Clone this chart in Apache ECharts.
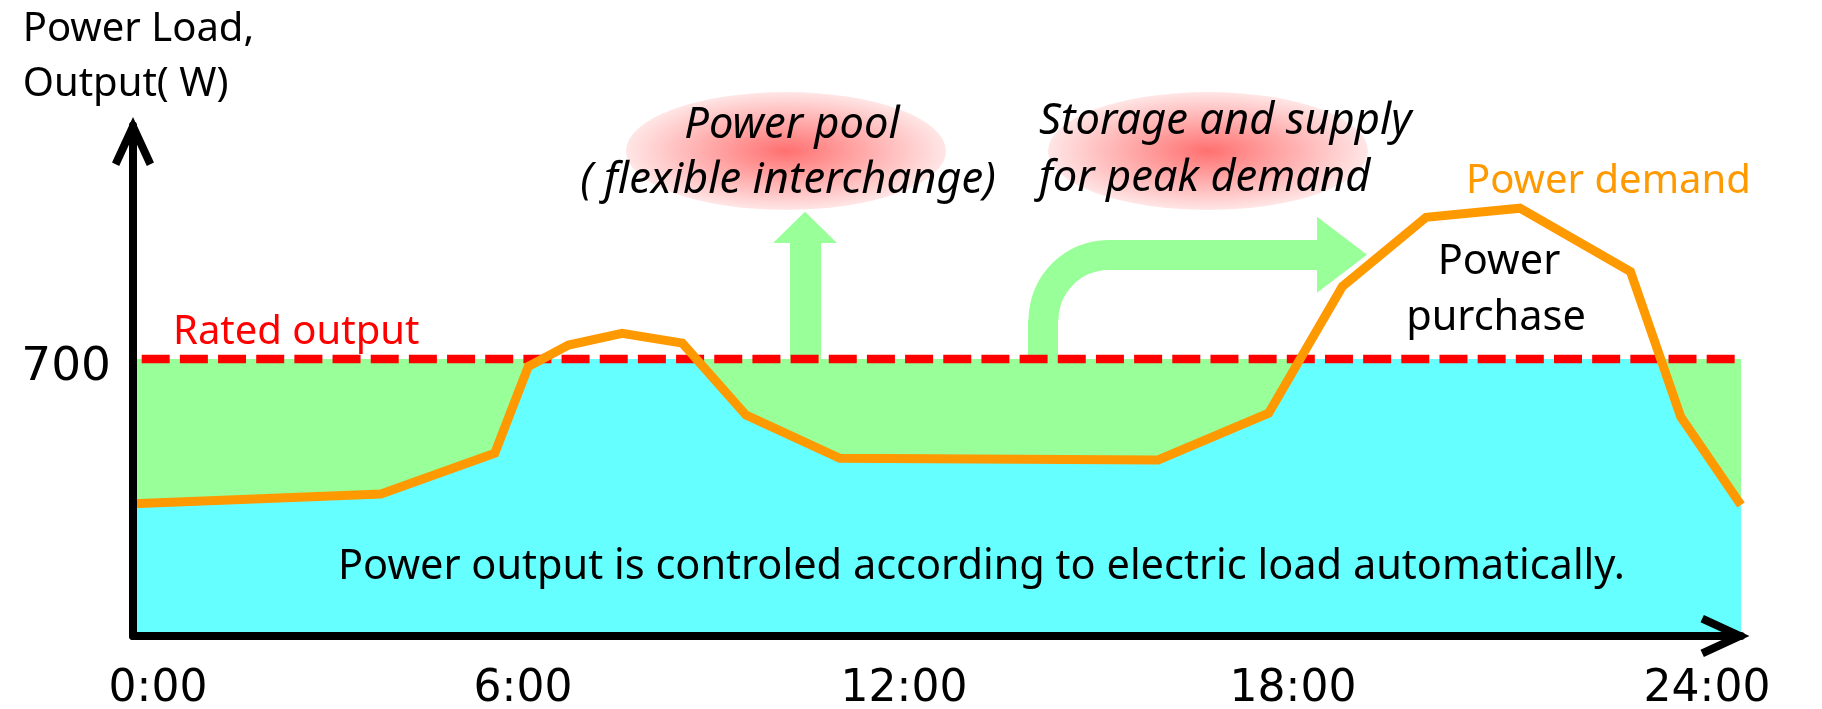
<!DOCTYPE html>
<html>
<head>
<meta charset="utf-8">
<script src="https://cdn.jsdelivr.net/npm/echarts@6/dist/echarts.min.js"></script>
<style>
html,body{margin:0;padding:0;background:#fff;}
#main{width:1822px;height:709px;}
</style>
</head>
<body>
<div id="main"></div>
<script>
// ---- data ----
const demandHours = [0, 3.7, 5.4, 5.9, 6.5, 7.3, 8.2, 9.15, 10.55, 15.3, 16.95, 18.05, 19.3, 20.7, 22.35, 23.1, 24];
const demand      = [334, 359, 462, 681, 735, 765, 740, 558, 449, 445, 563, 883, 1058, 1081, 921, 554, 331];
const outputHours = [0, 3.7, 5.4, 5.9, 6.12, 8.4, 9.15, 10.55, 15.3, 16.95, 17.41, 22.8, 23.1, 24];
const output      = [334, 359, 462, 681, 700, 700, 558, 449, 445, 563, 700, 700, 554, 331];
const ratedHours  = [0, 24];
const rated       = [700, 700];
const xTickValues = [0, 6, 12, 18, 24];
const xTickLabels = ['0:00', '6:00', '12:00', '18:00', '24:00'];
const yTickValues = [700];
const yTickLabels = ['700'];
const yAxisTitle  = ['Power Load,', 'Output( W)'];

const zip = (a, b) => a.map((v, i) => [v, b[i]]);

const FONT = 'Noto Sans';
const tickFont = 'DejaVu Sans';

function txt(text, x, y, o) {
  return {
    type: 'text', x: x, y: y, z: 100,
    style: Object.assign({
      text: text, fontFamily: FONT, fontSize: 40, fill: '#000',
      align: 'left', verticalAlign: 'middle',
      textAlign: 'left', textVerticalAlign: 'middle'
    }, o || {})
  };
}
const IT = { fontStyle: 'italic', fontSize: 43.5 };
const center = { align: 'center', textAlign: 'center' };

const chevron = 'path://M22 0.4 L43.1 46.3 L35.9 49.7 L22 19.6 L8.1 49.7 L0.9 46.3 Z';

const richX = {};
const pads = [[0,0,0,50],[0,24,0,0],[0,66,0,0],[0,92,0,0],[0,68,0,0]];
pads.forEach((p, i) => {
  richX['s' + i] = { padding: p, fontSize: 44, fontFamily: tickFont, color: '#000' };
});

const radial = {
  type: 'radial', x: 0.5, y: 0.5, r: 0.5,
  colorStops: [{offset: 0, color: '#FF7070'}, {offset: 1, color: '#FFE6E6'}]
};
const GREEN = '#99FF99';

const option = {
  animation: false,
  backgroundColor: '#fff',
  grid: { left: 133, right: 81, top: 125.5, bottom: 73, containLabel: false, outerBoundsMode: 'none' },
  xAxis: {
    type: 'value', min: 0, max: 24, interval: 6, z: 10,
    axisLine: { show: true, symbol: ['none', chevron], symbolSize: [42, 49], symbolOffset: [0, -16],
      lineStyle: { color: '#000', width: 8 } },
    axisTick: { show: false },
    splitLine: { show: false },
    axisLabel: {
      margin: 32,
      formatter: function (v) {
        const i = xTickValues.indexOf(v);
        return i < 0 ? '' : '{s' + i + '|' + xTickLabels[i] + '}';
      },
      rich: richX, fontSize: 44, fontFamily: tickFont, color: '#000'
    }
  },
  yAxis: {
    type: 'value', min: 0, max: 1290, interval: 700, offset: 4, z: 10,
    axisLine: { show: true, symbol: ['none', chevron], symbolSize: [42, 49], symbolOffset: [0, -16],
      lineStyle: { color: '#000', width: 8 } },
    axisTick: { show: false },
    splitLine: { show: false },
    axisLabel: {
      margin: 18,
      formatter: function (v) {
        const i = yTickValues.indexOf(v);
        return i < 0 ? '' : '{t|' + yTickLabels[i] + '}';
      },
      rich: { t: { padding: [18, 0, 0, 0], fontSize: 47, fontFamily: tickFont, color: '#000' } },
      fontSize: 47, fontFamily: tickFont, color: '#000'
    }
  },
  series: [
    { type: 'line', data: zip(ratedHours, rated), symbol: 'none', z: 1,
      lineStyle: { width: 0 }, areaStyle: { color: GREEN, opacity: 1 } },
    { type: 'line', data: zip(outputHours, output), symbol: 'none', z: 2,
      lineStyle: { width: 0 }, areaStyle: { color: '#66FFFF', opacity: 1 } },
    { type: 'line', data: zip(ratedHours, rated), symbol: 'none', z: 3,
      lineStyle: { color: '#FF0000', width: 8.5, type: [28, 10.17], dashOffset: 29.47, cap: 'butt' } },
    { type: 'line', data: zip(demandHours, demand), symbol: 'none', z: 4,
      lineStyle: { color: '#FF9900', width: 9, join: 'miter' } }
  ],
  graphic: [
    // pink ellipses
    { type: 'circle', x: 786, y: 151, scaleX: 160 / 59, z: 0, shape: { cx: 0, cy: 0, r: 59 }, style: { fill: radial } },
    { type: 'circle', x: 1208, y: 151, scaleX: 160 / 59, z: 0, shape: { cx: 0, cy: 0, r: 59 }, style: { fill: radial } },
    // green up arrow
    { type: 'polygon', z: 0, shape: { points: [[790,359],[790,243],[773,243],[805,211.7],[837,243],[821,243],[821,359]] },
      style: { fill: GREEN } },
    // green curved arrow
    { type: 'rect', z: 0, shape: { x: 1028, y: 319.5, width: 30, height: 39.5 }, style: { fill: GREEN } },
    { type: 'sector', z: 0, shape: { cx: 1108.5, cy: 320, r0: 50, r: 80, startAngle: Math.PI, endAngle: Math.PI * 1.5, clockwise: true },
      style: { fill: GREEN } },
    { type: 'rect', z: 0, shape: { x: 1108, y: 240, width: 209.5, height: 30 }, style: { fill: GREEN } },
    { type: 'polygon', z: 0, shape: { points: [[1317,216.7],[1367,254.7],[1317,292.7]] }, style: { fill: GREEN } },
    // texts
    txt(yAxisTitle[0], 22.7, 30),
    txt(yAxisTitle[1], 22.7, 85),
    txt('Rated output', 173, 333, { fill: '#FF0000' }),
    txt('Power demand', 1466, 182, { fill: '#FF9900' }),
    txt('Power', 1499, 262, Object.assign({ fontSize: 41.5 }, center)),
    txt('purchase', 1496, 318, Object.assign({ fontSize: 41.5 }, center)),
    txt('Power output is controled according to electric load automatically.', 338, 567, { fontSize: 41.5 }),
    txt('Power pool', 792, 126, Object.assign({}, IT, center)),
    txt('( flexible interchange)', 788, 181, Object.assign({}, IT, center)),
    txt('Storage and supply', 1039, 122, IT),
    txt('for peak demand', 1039, 179, IT)
  ]
};

const chart = echarts.init(document.getElementById('main'), null, { renderer: 'canvas', width: 1822, height: 709 });
chart.setOption(option);
</script>
</body>
</html>
